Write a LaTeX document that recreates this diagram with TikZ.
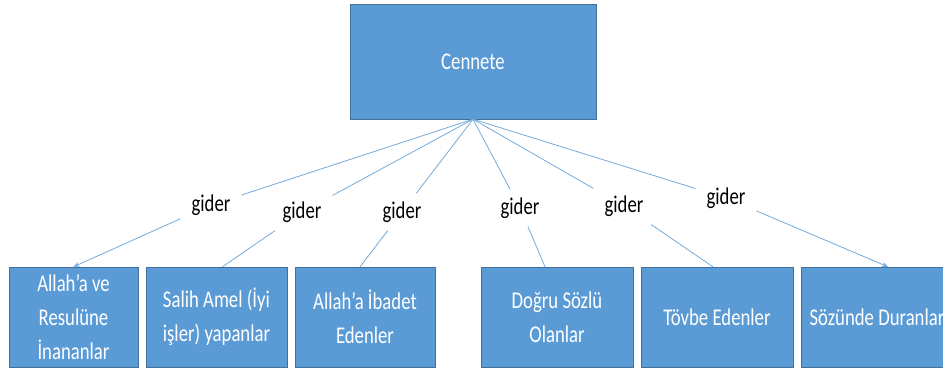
\documentclass[tikz,border=0pt]{standalone}
\usepackage{fontspec}
\setmainfont{Carlito}[FakeStretch=0.78]
\usetikzlibrary{arrows.meta}

\definecolor{boxblue}{HTML}{5B9BD5}
\definecolor{boxedge}{HTML}{41719C}

\tikzset{
  box/.style={draw=boxedge, fill=boxblue, text=white, align=center,
    font=\fontsize{24}{34}\selectfont, inner sep=0pt, minimum height=100pt},
  lbl/.style={font=\fontsize{24}{28}\selectfont, inner xsep=11pt, inner ysep=8pt},
  link/.style={draw=boxblue!85, line width=0.8pt},
}

\begin{document}
\begin{tikzpicture}[x=1pt,y=1pt]
\useasboundingbox (0,0) rectangle (943,-371);
\node[box, minimum width=246pt, minimum height=115pt] (cennet) at (473,-61.5) {Cennete};
% the six groups
\node[box, minimum width=129pt] (b1) at (73.5,-317) {Allah'a ve\\Resulüne\\İnananlar};
\node[box, minimum width=141pt] (b2) at (216.5,-317) {Salih Amel (İyi\\işler) yapanlar};
\node[box, minimum width=140pt] (b3) at (365,-317) {Allah'a İbadet\\Edenler};
\node[box, minimum width=152pt] (b4) at (557,-317) {Doğru Sözlü\\Olanlar};
\node[box, minimum width=152pt] (b5) at (717,-317) {Tövbe Edenler};
\node[box, minimum width=152pt] (b6) at (877,-317) {Sözünde Duranlar};
% labels
\node[lbl] (g1) at (211,-205) {gider};
\node[lbl] (g2) at (302,-212) {gider};
\node[lbl] (g3) at (402,-212) {gider};
\node[lbl] (g4) at (520,-208) {gider};
\node[lbl] (g5) at (624,-206) {gider};
\node[lbl] (g6) at (726,-198) {gider};
\foreach \i in {1,...,6}
  \draw[link] (cennet.south) -- (g\i);
\draw[link,-{Stealth[length=6pt,width=5pt]}] (g1) -- (b1.north);
\draw[link] (g2) -- ([xshift=6pt]b2.north);
\draw[link] (g3) -- ([xshift=-5pt]b3.north);
\draw[link] (g4) -- ([xshift=-12pt]b4.north);
\draw[link] (g5) -- ([xshift=-4pt]b5.north);
\draw[link,-{Stealth[length=6pt,width=5pt]}] (g6) -- ([xshift=11pt]b6.north);
\end{tikzpicture}
\end{document}
